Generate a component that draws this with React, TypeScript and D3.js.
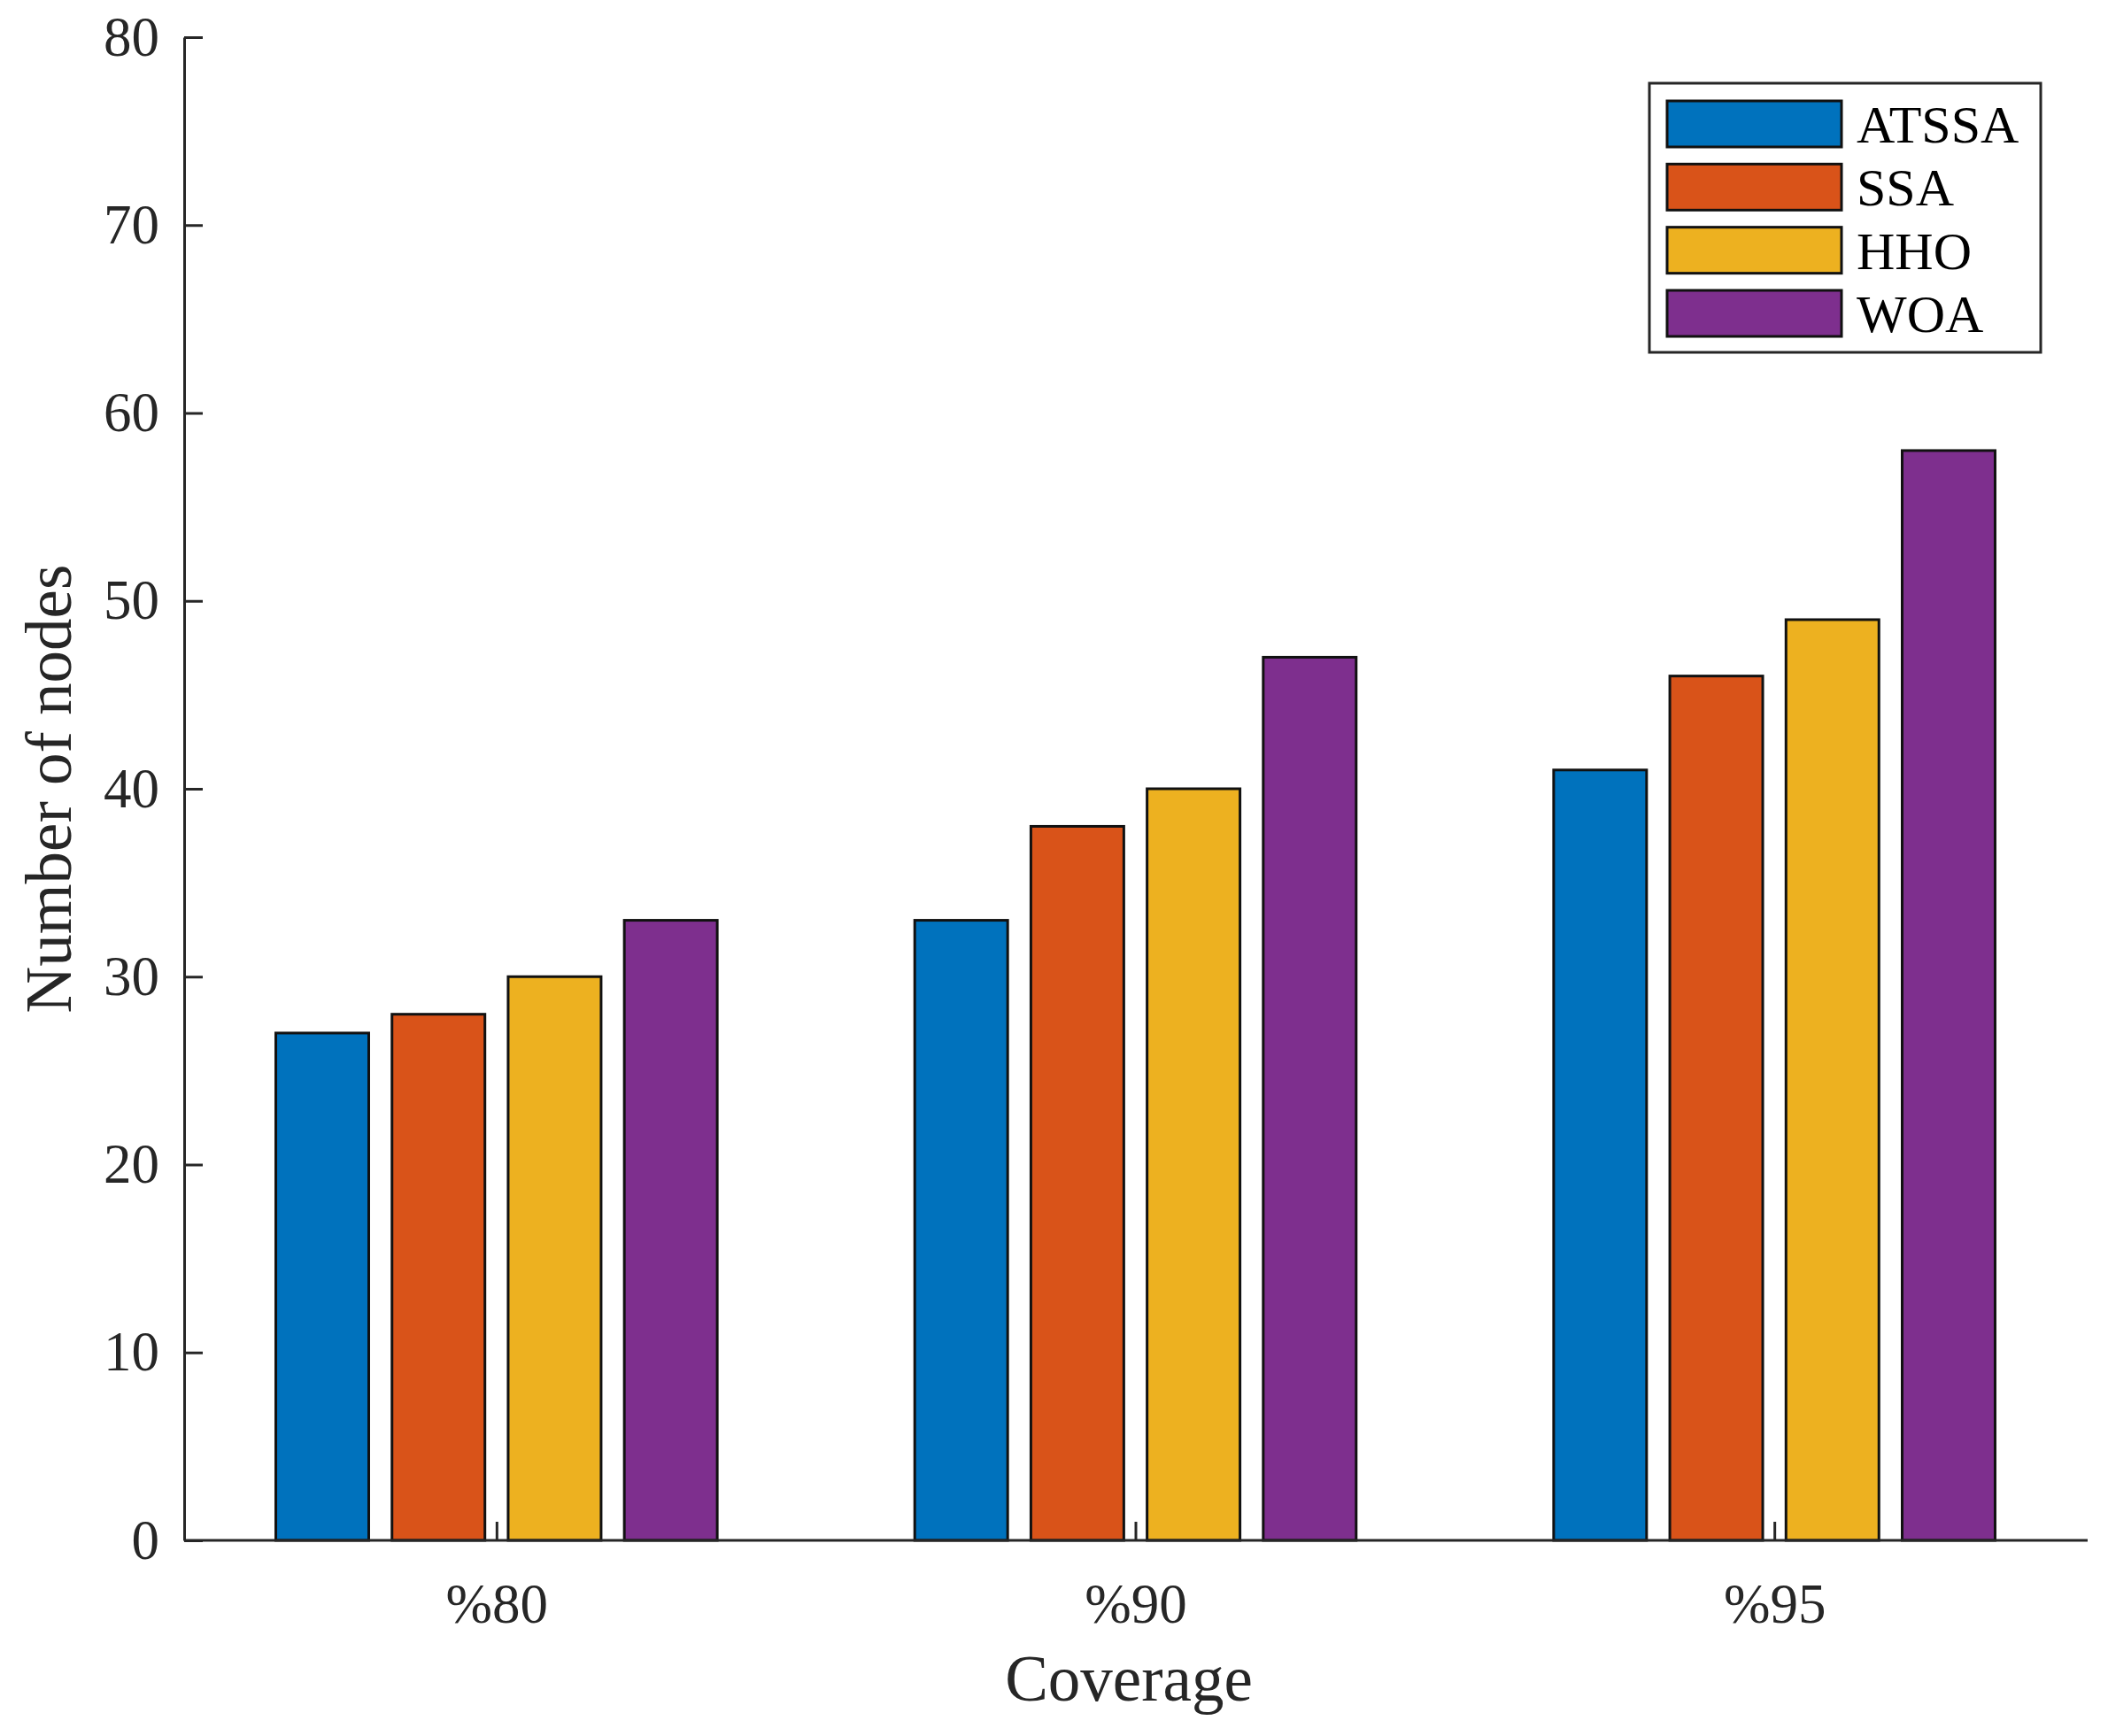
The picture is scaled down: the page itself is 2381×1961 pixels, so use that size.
import * as d3 from "d3";
import { useEffect, useRef } from "react";

const categories = ["%80", "%90", "%95"];
const seriesNames = ["ATSSA", "SSA", "HHO", "WOA"];
const seriesColors = ["#0072BD", "#D95319", "#EDB120", "#7E2F8E"];
const atssa = [27, 33, 41];
const ssa = [28, 38, 46];
const hho = [30, 40, 49];
const woa = [33, 47, 58];
const yTicks = [0, 10, 20, 30, 40, 50, 60, 70, 80];

const seriesValues = [atssa, ssa, hho, woa];

export default function App() {
  const ref = useRef<SVGSVGElement | null>(null);

  useEffect(() => {
    const el = ref.current;
    if (!el) return;
    const svg = d3.select(el);
    svg.selectAll("*").remove();

    const W = 2381;
    const H = 1961;
    const font = "'Liberation Serif', 'Times New Roman', serif";
    const ink = "#262626";
    const axisLeftX = 208;
    const axisRightX = 2358;

    const x = d3.scaleLinear().domain([0.5, 3.5]).range([200, 2365]);
    const y = d3.scaleLinear().domain([0, 80]).range([1740, 42]);

    svg.attr("width", W).attr("height", H).attr("viewBox", `0 0 ${W} ${H}`);
    svg.append("rect").attr("width", W).attr("height", H).attr("fill", "#fff");

    // grouped bars, MATLAB-like spacing
    const n = seriesNames.length;
    const groupW = Math.min(0.8, n / (n + 1.5));
    const slot = groupW / n;
    const barW = slot * 0.8;

    seriesValues.forEach((vals, i) => {
      const off = (i - (n - 1) / 2) * slot;
      svg
        .append("g")
        .selectAll("rect")
        .data(vals)
        .join("rect")
        .attr("x", (_, j) => x(j + 1 + off - barW / 2))
        .attr("width", (_, j) => x(j + 1 + off + barW / 2) - x(j + 1 + off - barW / 2))
        .attr("y", (d) => y(d))
        .attr("height", (d) => y(0) - y(d))
        .attr("fill", seriesColors[i])
        .attr("stroke", "#111")
        .attr("stroke-width", 3);
    });

    const styleAxis = (ga: d3.Selection<SVGGElement, unknown, null, undefined>) => {
      ga.select(".domain").attr("stroke", ink).attr("stroke-width", 3);
      ga.selectAll(".tick line").attr("stroke", ink).attr("stroke-width", 3);
      ga.selectAll(".tick text")
        .attr("fill", ink)
        .attr("font-family", font)
        .attr("font-size", 63);
    };

    const xAxis = svg
      .append("g")
      .attr("transform", `translate(0,${y(0)})`)
      .call(
        d3
          .axisBottom(x)
          .tickValues([1, 2, 3])
          .tickFormat((d) => categories[(d as number) - 1])
          .tickSizeInner(-21)
          .tickSizeOuter(0)
          .tickPadding(48),
      )
      .call(styleAxis);
    xAxis.select(".domain").remove();
    xAxis
      .append("line")
      .attr("x1", axisLeftX)
      .attr("x2", axisRightX)
      .attr("stroke", ink)
      .attr("stroke-width", 3);

    svg
      .append("g")
      .attr("transform", `translate(${axisLeftX},0)`)
      .call(d3.axisLeft(y).tickValues(yTicks).tickSizeInner(-21).tickSizeOuter(0).tickPadding(28))
      .call(styleAxis);

    svg
      .append("text")
      .attr("x", 1275)
      .attr("y", 1921)
      .attr("text-anchor", "middle")
      .attr("font-family", font)
      .attr("font-size", 73)
      .attr("fill", ink)
      .text("Coverage");

    svg
      .append("text")
      .attr("transform", `translate(80,${(y(0) + y(80)) / 2}) rotate(-90)`)
      .attr("text-anchor", "middle")
      .attr("font-family", font)
      .attr("font-size", 73)
      .attr("fill", ink)
      .text("Number of nodes");

    // legend
    const lg = svg.append("g");
    lg.append("rect")
      .attr("x", 1863)
      .attr("y", 94)
      .attr("width", 442)
      .attr("height", 304)
      .attr("fill", "#fff")
      .attr("stroke", ink)
      .attr("stroke-width", 3);
    const rowY = d3.scalePoint<string>().domain(seriesNames).range([140, 354]);
    seriesNames.forEach((name, i) => {
      const cy = rowY(name) ?? 0;
      lg.append("rect")
        .attr("x", 1883)
        .attr("y", cy - 26)
        .attr("width", 197)
        .attr("height", 52)
        .attr("fill", seriesColors[i])
        .attr("stroke", "#111")
        .attr("stroke-width", 3);
      lg.append("text")
        .attr("x", 2097)
        .attr("y", cy + 21)
        .attr("font-family", font)
        .attr("font-size", 60)
        .attr("fill", "#000")
        .text(name);
    });
  }, []);

  return <svg ref={ref} style={{ position: "absolute", left: 0, top: 0 }} />;
}
